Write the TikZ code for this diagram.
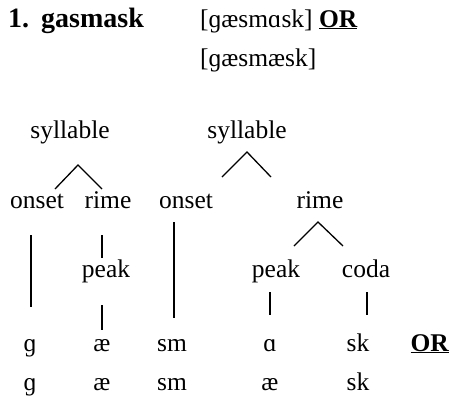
\documentclass[tikz,border=0pt]{standalone}
\usepackage{fontspec}
\setmainfont{Liberation Serif}
\begin{document}
\begin{tikzpicture}[x=1pt, y=-1pt]

		% Styles for the labels and the tree branches
		\tikzstyle{lbl} = [inner sep=0pt, anchor=base, font=\fontsize{25.5}{30}\selectfont]
		\tikzstyle{head} = [inner sep=0pt, anchor=base west, font=\fontsize{28}{32}\selectfont\bfseries]
		\tikzstyle{branch} = [line width=1.3pt]

		\useasboundingbox (0,0) rectangle (451,400);

		% Heading
		\node[head] (num) at (8,27) {1.};
		\node[head] (word) at (41,27) {gasmask};
		\node[lbl, anchor=base west] (trA) at (200,27) {[ɡæsmɑsk] \textbf{\underline{OR}}};
		\node[lbl, anchor=base west] (trB) at (200,66) {[ɡæsmæsk]};

		% Tree on the left
		\node[lbl] (sylA) at (70,138) {syllable};
		\node[lbl] (onsA) at (37,208) {onset};
		\node[lbl] (rimA) at (108,208) {rime};
		\node[lbl] (peakA) at (106,277) {peak};

		% Tree on the right
		\node[lbl] (sylB) at (247,138) {syllable};
		\node[lbl] (onsB) at (186,208) {onset};
		\node[lbl] (rimB) at (320,208) {rime};
		\node[lbl] (peakB) at (276,277) {peak};
		\node[lbl] (codaB) at (366,277) {coda};

		% Segments, first reading
		\node[lbl] (g1) at (30,351) {ɡ};
		\node[lbl] (ae1) at (102,351) {æ};
		\node[lbl] (sm1) at (172,351) {sm};
		\node[lbl] (a1) at (270,351) {ɑ};
		\node[lbl] (sk1) at (358,351) {sk};
		\node[lbl, anchor=base east] (or1) at (449,351) {\textbf{\underline{OR}}};

		% Segments, second reading
		\node[lbl] (g2) at (30,390) {ɡ};
		\node[lbl] (ae2) at (102,390) {æ};
		\node[lbl] (sm2) at (172,390) {sm};
		\node[lbl] (ae3) at (270,390) {æ};
		\node[lbl] (sk2) at (358,390) {sk};

		% Branch points
		\coordinate (sylAtop) at (78,165);
		\coordinate (sylAl) at (55,189);
		\coordinate (sylAr) at (102,189);
		\coordinate (sylBtop) at (247,152);
		\coordinate (sylBl) at (222,177);
		\coordinate (sylBr) at (271,177);
		\coordinate (rimBtop) at (318,222);
		\coordinate (rimBl) at (294,246);
		\coordinate (rimBr) at (343,246);
		\coordinate (onsAtop) at (31,235);
		\coordinate (onsAbot) at (31,307);
		\coordinate (rimAtop) at (102,235);
		\coordinate (rimAbot) at (102,258);
		\coordinate (peakAtop) at (102,305);
		\coordinate (peakAbot) at (102,330);
		\coordinate (onsBtop) at (174,222);
		\coordinate (onsBbot) at (174,318);
		\coordinate (peakBtop) at (270,292);
		\coordinate (peakBbot) at (270,315);
		\coordinate (codaBtop) at (367,292);
		\coordinate (codaBbot) at (367,315);

		% Branches
		\draw[branch] (sylAl) -- (sylAtop) -- (sylAr);
		\draw[branch] (sylBl) -- (sylBtop) -- (sylBr);
		\draw[branch] (rimBl) -- (rimBtop) -- (rimBr);
		\draw[branch] (onsAtop) -- (onsAbot);
		\draw[branch] (rimAtop) -- (rimAbot);
		\draw[branch] (peakAtop) -- (peakAbot);
		\draw[branch] (onsBtop) -- (onsBbot);
		\draw[branch] (peakBtop) -- (peakBbot);
		\draw[branch] (codaBtop) -- (codaBbot);

	\end{tikzpicture}
\end{document}
